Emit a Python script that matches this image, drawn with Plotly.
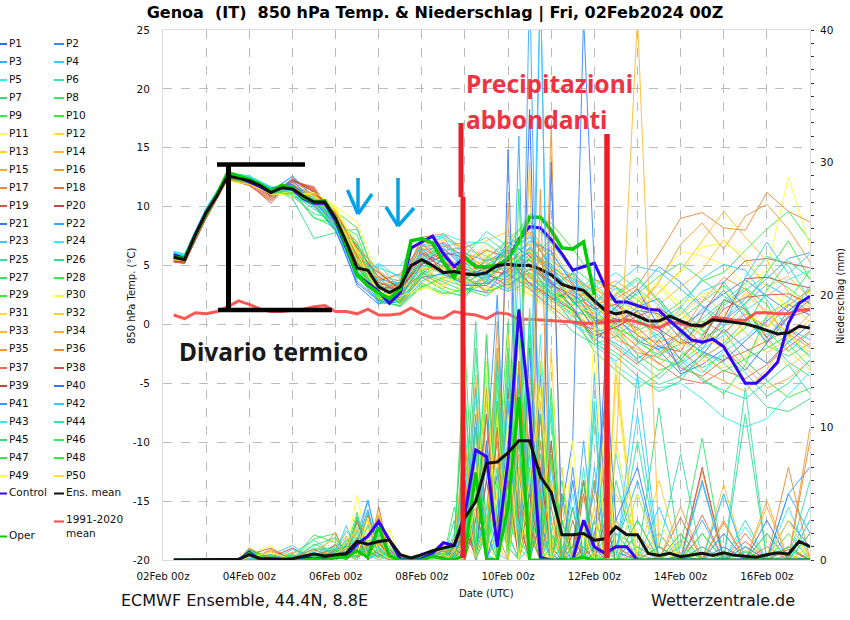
import plotly.graph_objects as go
import pandas as pd

# time grids
TIME_6H = pd.date_range("2024-02-02 06:00", "2024-02-17 00:00", freq="6h")
TIME_T = ["2024-02-02 06:00"] + list(pd.date_range("2024-02-02 12:00", "2024-02-17 00:00", freq="12h"))
TIME_R = ["03 18","04 00","04 12","05 00","05 12","06 00","06 06","06 12","06 18","07 00","07 06","07 12","08 00","08 12","08 18","09 00","09 06","09 12","09 18","10 00","10 06","10 12","10 18","11 00","11 06","11 12","11 18","12 00","12 06","12 12","13 00","13 12","14 00","14 12","15 00","15 12","16 00","16 12","17 00"]
TIME_R = [f"2024-02-{s[:2]} {s[3:]}:00" for s in TIME_R]

# thick series (6-hourly)
T_MEAN = [5.7,5.5,7.6,9.5,10.9,12.6,12.4,12.2,11.8,11.2,11.6,11.5,10.9,10.4,10.4,9.0,7.0,4.8,4.6,3.2,2.7,3.2,5.0,5.5,5.0,4.4,4.5,4.3,4.2,4.4,5.0,5.1,5.0,5.0,4.7,4.2,3.4,3.1,2.9,2.0,1.2,0.9,1.1,0.7,0.3,0.3,0.7,0.3,-0.05,-0.1,0.4,0.3,0.2,0.05,-0.2,-0.5,-0.8,-0.7,-0.15,-0.3]
T_CONTROL = [5.9,5.6,7.7,9.5,11.0,12.7,12.5,12.1,11.7,11.2,11.7,11.5,10.7,10.3,10.3,8.8,6.5,4.2,3.5,2.8,1.8,2.7,6.5,7.0,7.5,6.0,4.9,5.7,4.9,4.9,4.9,5.5,7.2,8.3,8.2,7.2,6.0,4.6,4.9,5.2,3.2,1.9,1.9,1.6,1.3,1.2,0.3,-0.5,-1.3,-1.5,-1.25,-1.9,-3.5,-5.0,-5.0,-4.2,-3.2,0.1,1.8,2.4]
T_OPER = [5.7,5.6,7.6,9.4,11.0,12.9,12.6,12.3,11.9,11.3,11.8,11.6,10.8,10.4,10.5,9.0,6.7,4.2,3.3,2.7,2.2,3.0,7.1,7.3,6.9,5.3,4.0,5.7,4.9,4.9,5.0,5.6,7.0,9.1,9.1,8.0,6.5,6.4,7.0,2.5]
T_CLIM = [0.8,0.5,1.0,0.9,1.1,1.5,2.0,1.7,1.3,1.1,1.1,1.2,1.3,1.5,1.6,1.1,1.1,0.9,1.3,0.8,0.8,0.9,1.4,0.9,0.55,0.55,1.1,0.9,0.8,0.5,1.0,0.9,0.45,0.45,0.4,0.35,0.3,0.2,0.1,0.1,0.2,0.3,0.4,0.2,-0.1,-0.3,0.2,0.1,-0.1,-0.2,0.6,0.5,0.35,0.35,1.0,1.0,0.9,0.9,1.2,1.3]
R_MEAN = [0,0,0,0,0,0,0.05,0.4,0.1,0.1,0.05,0.1,0.3,0.45,0.3,0.4,0.5,1.4,1.2,1.4,1.5,0.4,0.15,0.4,0.7,0.9,1.1,3.2,4.4,7.3,7.4,8.1,9,9,6.3,5.1,1.9,1.9,2,1.5,1.6,2.5,1.9,1.9,0.5,0.35,0.5,0.25,0.35,0.5,0.35,0.55,0.35,0.3,0.2,0.4,0.55,0.45,1.4,1]
R_CONTROL = [0,0,0,0,0,0,0,0.6,0,0,0,0,0.2,0.1,0.1,0.2,0.3,1.2,1.8,2.9,1.5,0.1,0,0.1,0.5,1.3,1.1,3.5,8.3,7.8,1,7.5,18.9,11.3,0.2,0,0,0,3,1,0.5,1,1,0,0,0,0,0,0,0,0,0,0,0,0,0,0,0,0,0]
R_OPER = [0,0,0,0,0,0,0,0.5,0,0,0,0,0,0.1,0,0.2,0.2,0.7,0.2,2.5,0.3,0,0,0,0.3,0.1,0,0.4,6.6,0.1,0,4,12.3,0,0,0,0,0.1,0.2,0,0,0,0,0,0,0,0,0,0,0,0,0,0,0,0,0,0,0,0,0]

# ensemble members, 850 hPa temperature
T01=[5.9,5.7,9.6,12.5,12.2,11.3,11.6,10.4,8.8,4.2,2.4,3.6,6.1,5.2,4.6,3.8,5.4,6.1,4.2,1.9,0.6,-0.4,1.2,0.9,-1.2,-2.3,-3.1,-1.4,0.3,1.7,0.8]
T02=[5.8,5.6,9.4,12.6,12.3,11.1,11.8,10.6,9.1,5.1,3.6,2.9,5.4,6.3,3.9,4.8,6.2,7.4,5.1,3.3,2.1,0.8,-1.4,-2.1,-0.7,1.3,2.6,3.8,2.4,1.1,2.9]
T03=[6.0,5.8,9.7,12.4,12.0,11.2,12.6,10.7,8.6,3.7,2.1,2.4,4.8,5.9,6.2,4.1,3.8,5.2,3.3,1.4,-0.8,-1.6,-2.9,-1.8,-3.4,-2.1,0.4,2.2,3.9,5.6,6.1]
T04=[6.1,5.9,9.8,12.7,12.4,11.4,11.4,10.9,9.3,5.4,4.1,3.7,6.6,6.9,5.3,3.4,4.6,3.9,2.8,0.6,1.8,3.1,1.6,-0.4,0.9,2.8,3.6,1.4,-0.9,0.7,3.3]
T05=[6.2,5.9,9.6,12.6,12.5,11.6,11.7,10.2,8.4,4.0,5.2,3.9,7.1,7.6,6.4,5.8,4.2,3.3,1.9,2.8,3.9,2.2,1.1,-1.7,-2.9,-4.1,-2.3,-1.1,0.6,-1.4,-2.6]
T06=[5.8,5.5,9.3,12.9,12.6,11.5,11.0,10.6,8.9,5.6,2.7,2.1,5.7,6.4,5.1,4.9,4.0,6.6,4.8,3.9,1.2,2.4,3.8,1.9,0.2,-0.9,1.6,2.9,4.2,3.1,1.7]
T07=[5.6,5.4,9.5,12.8,12.3,11.7,10.9,10.1,7.9,4.4,3.0,3.3,4.6,3.8,3.2,5.1,5.9,6.8,3.6,1.1,-1.2,-2.4,-3.8,-5.1,-4.4,-2.9,-1.6,0.3,-1.1,-3.2,-4.4]
T08=[5.7,5.6,9.5,12.4,12.1,11.0,11.3,9.1,8.2,6.1,3.4,2.6,6.9,5.7,3.6,4.4,3.6,5.6,7.2,4.8,3.4,1.8,0.6,-1.3,0.4,1.9,3.3,1.6,-1.8,-2.7,-1.6]
T09=[5.6,5.5,9.4,12.5,12.2,11.4,11.2,10.5,9.6,8.2,3.1,2.2,5.0,4.6,2.9,3.6,6.6,9.4,8.6,6.4,3.8,3.2,2.1,0.6,1.9,3.7,4.4,6.3,8.1,9.6,7.1]
T10=[5.7,5.7,9.6,12.6,12.4,11.3,11.5,10.3,8.7,5.3,2.3,1.9,4.4,3.2,2.6,4.1,5.2,4.1,2.6,2.2,1.1,-0.4,-2.6,-3.9,-3.2,-1.7,-0.6,-3.1,-4.8,-6.2,-5.4]
T11=[5.6,5.4,9.3,12.2,11.9,11.0,11.1,10.9,10.0,8.7,3.8,4.2,3.6,4.1,5.6,6.1,4.6,3.7,5.3,3.2,1.6,2.7,1.3,3.9,6.2,5.8,5.1,3.4,4.6,12.5,6.6]
T12=[5.7,5.5,9.4,12.3,12.0,11.1,11.0,11.3,9.8,5.8,2.6,2.2,3.1,3.9,5.2,6.8,5.5,3.2,1.7,0.4,-0.9,0.6,1.9,3.3,1.2,-0.6,-1.4,0.2,-1.3,-3.6,-2.2]
T13=[5.5,5.3,9.2,12.6,12.2,11.2,11.4,10.6,9.4,6.4,4.3,3.1,6.3,7.2,6.6,7.1,7.9,6.1,4.4,2.1,3.3,1.2,-0.8,-0.1,0.8,2.4,1.1,-0.7,-2.4,-1.2,0.4]
T14=[5.6,5.4,9.4,12.7,12.3,11.3,11.6,10.8,8.9,4.9,2.8,1.8,3.9,5.0,4.9,3.2,2.9,4.5,6.6,3.6,0.4,-1.1,-0.4,1.7,3.2,4.6,7.2,5.4,3.2,4.1,2.2]
T15=[5.5,5.4,9.3,12.8,12.4,11.0,11.5,10.4,8.5,5.9,3.2,1.7,4.2,3.4,4.2,5.7,6.9,7.7,5.6,3.9,2.9,3.7,2.4,0.8,-1.2,-2.8,-1.7,-3.6,-5.4,-4.6,-3.1]
T16=[5.4,5.3,9.2,12.9,12.1,11.2,11.8,10.9,9.2,6.6,4.6,2.7,5.8,6.6,7.0,5.2,4.4,5.9,2.9,1.6,3.8,3.2,1.4,3.6,6.8,8.6,6.4,9.2,10.2,8.1,5.3]
T17=[5.5,5.3,9.1,12.5,12.0,11.5,11.7,11.1,9.6,6.2,2.9,3.4,7.4,7.7,6.1,4.7,5.6,4.0,3.2,4.3,1.7,2.2,3.3,6.0,9.0,9.5,8.2,8.0,11.2,9.6,8.7]
T18=[5.4,5.2,9.3,12.4,11.8,10.5,12.2,11.6,8.0,5.1,3.7,4.3,6.8,5.3,4.0,2.9,4.1,6.4,4.7,2.6,-0.6,-0.3,-1.9,-3.3,-4.6,-5.0,-3.9,-4.6,-3.4,-1.9,-0.6]
T19=[5.5,5.3,9.0,12.3,11.9,10.3,12.3,11.4,9.0,4.7,3.9,2.5,6.0,4.9,5.1,6.3,5.7,3.4,2.1,2.9,0.3,0.5,-0.3,-1.9,-2.3,0.8,3.6,5.4,5.6,5.2,4.8]
T20=[5.3,5.2,9.1,12.6,12.2,10.9,12.4,11.2,9.2,5.7,4.4,3.0,5.2,6.1,5.7,4.3,3.3,4.7,3.7,1.4,-1.4,0.2,1.1,-0.4,-1.6,-1.4,2.1,1.3,-1.1,0.6,1.2]
T21=[5.9,5.7,9.7,12.7,12.5,11.5,11.9,10.5,8.3,3.3,1.7,2.8,4.3,5.5,3.1,2.7,5.0,7.1,6.2,3.4,1.9,0.4,-0.9,-2.2,-4.2,-3.4,-2.1,-3.9,-1.6,0.6,2.1]
T22=[6.0,5.8,9.8,12.5,12.3,11.3,12.6,10.8,9.0,4.6,2.0,1.6,3.7,4.4,6.0,5.4,6.3,5.1,3.1,4.4,2.6,1.1,2.8,4.9,3.6,1.6,0.3,1.8,3.4,2.3,1.1]
T23=[6.1,5.9,9.9,12.6,12.4,11.4,11.3,10.7,9.2,5.4,4.8,4.1,6.7,7.4,4.8,3.6,2.8,3.6,2.4,0.2,-1.8,-3.1,-1.6,-0.8,1.4,3.9,5.1,4.6,2.1,-0.4,-1.3]
T24=[6.2,6.0,9.8,12.8,12.5,11.6,11.6,10.3,8.4,3.9,5.0,5.0,7.3,7.5,5.9,3.9,7.6,5.4,3.8,2.3,3.2,4.4,3.0,1.6,-0.3,-2.1,-0.9,1.2,2.4,3.8,4.6]
T25=[6.0,5.8,9.6,12.9,12.6,11.7,11.1,10.0,8.1,4.5,3.3,2.4,5.6,6.7,5.8,7.9,6.6,8.2,5.4,4.1,1.4,-0.7,-3.1,-4.6,-3.0,-4.8,-5.6,-6.3,-4.9,-3.4,-5.9]
T26=[5.8,5.6,9.4,12.7,12.2,11.5,10.7,7.3,7.8,8.1,3.4,3.4,5.3,4.2,3.7,5.5,5.8,3.1,1.2,-0.6,-1.7,-1.0,0.4,-1.0,-2.3,-3.7,-2.6,-4.1,-6.1,-5.0,-3.0]
T27=[5.7,5.5,9.5,12.4,12.0,11.2,11.2,9.0,8.6,7.6,2.5,2.0,4.0,2.9,2.3,4.5,4.8,6.2,4.1,2.4,0.1,1.4,2.6,4.1,5.2,3.8,2.4,1.1,-0.6,-2.3,-0.7]
T28=[5.6,5.5,9.4,12.5,12.2,11.3,11.4,10.4,8.8,6.0,1.9,1.6,3.3,2.6,3.0,2.4,3.9,5.7,5.0,1.8,2.3,0.1,-1.5,-2.6,-1.6,0.1,1.8,3.1,1.7,-1.7,-3.6]
T29=[5.7,5.6,9.5,12.6,12.3,11.4,11.6,10.6,9.0,5.2,2.2,2.0,4.5,5.6,4.4,5.0,6.4,4.3,2.2,0.9,-2.3,-3.9,-5.4,-4.2,-2.7,-1.2,-0.2,1.7,4.4,7.1,3.8]
T30=[5.6,5.4,9.3,12.3,12.0,11.1,11.0,10.8,9.9,6.9,2.2,2.3,3.4,2.4,3.4,3.0,3.3,2.5,1.0,1.7,0.9,-0.1,1.0,2.8,4.4,6.6,6.9,5.9,3.1,1.4,2.8]
T31=[5.5,5.4,9.2,12.4,12.1,11.2,11.2,11.0,9.7,5.0,2.5,2.8,4.9,3.7,4.6,5.9,4.9,2.8,3.0,1.0,-0.2,1.0,-0.6,-2.4,-1.4,-3.0,-3.7,-2.7,-0.4,1.9,0.2]
T32=[5.5,5.3,9.3,12.6,12.2,11.3,11.5,10.7,9.1,6.3,3.5,1.9,5.5,6.2,6.7,4.0,3.1,5.0,2.4,3.1,2.4,1.6,3.1,0.4,-1.9,-0.3,0.9,2.6,0.9,-2.2,-3.9]
T33=[5.4,5.3,9.2,12.7,12.3,11.1,11.6,10.5,8.6,5.5,3.9,2.6,4.1,3.0,5.5,6.4,5.3,6.9,5.9,2.7,3.6,2.9,0.9,2.7,4.6,7.1,9.6,7.4,5.4,2.7,1.4]
T34=[5.5,5.4,9.3,12.8,12.4,11.0,11.3,10.2,8.3,5.3,3.1,2.5,4.7,4.8,3.5,3.8,5.1,4.2,2.0,0.7,1.0,-1.3,-2.1,-3.4,-2.0,-3.9,-4.8,-5.7,-3.8,-1.0,0.9]
T35=[5.4,5.2,9.2,12.6,12.1,11.4,11.9,11.0,9.5,6.7,4.5,3.3,7.2,6.0,4.5,2.6,3.6,6.0,4.5,2.0,3.0,2.0,-1.0,-1.5,-0.9,2.0,4.0,3.0,1.0,-0.8,-2.0]
T36=[5.3,5.2,9.1,12.5,11.9,10.7,12.0,11.3,9.3,5.9,3.3,3.8,6.5,5.4,4.3,5.3,6.1,7.9,4.6,3.5,0.7,-0.9,-2.4,-2.8,-0.5,0.3,-0.7,0.9,-0.2,1.6,3.0]
T37=[5.4,5.3,9.0,12.3,11.8,10.6,12.1,11.7,8.8,4.8,2.9,3.6,5.9,7.0,5.6,4.6,4.3,3.0,1.5,0.1,-0.4,-2.0,-3.4,-1.3,-3.7,-4.4,-3.0,-2.3,-1.4,-0.4,-1.8]
T38=[5.3,5.2,9.2,12.4,12.0,10.8,12.3,11.5,9.1,5.2,3.6,2.7,6.4,4.5,3.3,3.3,4.7,5.5,3.4,2.5,1.3,1.7,0.2,-0.6,-3.0,-1.0,1.3,2.3,2.5,2.6,1.8]
T39=[5.4,5.3,9.1,12.5,12.2,10.9,12.2,11.3,9.4,6.5,4.0,3.2,5.1,5.8,4.1,4.8,5.5,3.5,2.3,1.2,-1.0,-0.2,0.7,1.4,0.1,-1.7,0.5,3.9,4.0,3.5,3.1]
T40=[5.9,5.6,9.5,12.7,12.4,11.6,11.9,10.2,8.0,3.5,2.0,2.3,5.1,6.5,4.7,4.2,7.0,5.8,3.5,2.1,-0.3,1.5,3.0,-0.2,-4.0,-2.6,-0.4,-2.0,-3.3,-1.5,0.0]
T41=[6.0,5.7,9.6,12.5,12.1,11.2,12.2,10.5,8.5,4.3,1.8,1.9,4.0,4.3,3.4,3.5,4.5,6.5,4.4,2.9,1.5,0.0,1.5,2.2,-0.1,1.0,2.9,0.6,-1.5,1.2,2.4]
T42=[6.1,5.8,9.8,12.6,12.3,11.3,11.4,10.8,8.7,5.0,3.8,3.5,6.2,6.8,5.0,4.0,3.0,4.8,6.0,3.7,1.9,3.4,4.9,4.5,3.0,1.5,-0.2,4.0,7.0,4.3,6.0]
T43=[6.2,5.9,9.9,12.8,12.6,11.7,11.5,10.1,8.2,4.1,5.1,3.0,6.0,7.7,7.0,6.9,5.6,4.9,2.7,0.0,-1.0,-3.5,-4.8,-5.4,-5.0,-6.3,-7.9,-8.7,-8.0,-6.0,-4.0]
T44=[6.0,5.8,9.7,12.9,12.5,11.6,11.0,9.8,8.4,4.7,3.4,2.0,5.5,6.3,6.5,7.4,6.0,7.6,4.9,3.0,0.0,-1.8,-3.2,-2.4,-1.0,0.5,2.0,3.5,5.8,5.0,2.0]
T45=[5.8,5.6,9.5,12.7,12.2,11.4,10.9,9.4,8.9,7.0,3.0,2.6,4.4,3.6,2.8,4.3,6.7,5.0,2.5,1.3,-1.6,-2.7,-4.4,-5.7,-4.8,-2.4,-3.3,-5.0,-7.0,-7.4,-6.3]
T46=[5.7,5.5,9.4,12.5,12.1,11.2,11.2,10.0,8.3,6.8,2.4,1.8,3.5,2.7,2.5,3.7,4.2,5.5,3.0,1.6,2.8,1.3,-0.5,0.3,1.5,-0.5,-1.8,-0.3,2.9,5.4,3.9]
T47=[5.6,5.4,9.5,12.4,12.0,11.3,11.3,10.6,8.9,5.6,2.1,1.5,3.2,4.0,3.8,5.6,7.2,8.8,6.9,4.5,2.0,-0.3,-1.2,-2.9,-3.5,-4.6,-5.9,-3.4,0.8,2.0,4.6]
T48=[5.7,5.5,9.5,12.6,12.3,11.4,11.7,10.5,9.0,4.9,2.3,2.1,4.2,5.1,4.0,2.8,3.4,4.4,2.7,1.2,0.5,2.6,4.0,2.0,-0.8,-2.5,-4.0,-2.9,-2.0,-0.9,-2.8]
T49=[5.6,5.4,9.3,12.2,11.9,11.1,10.9,11.2,10.1,6.1,2.6,2.4,3.0,3.3,4.4,5.0,5.2,6.3,4.0,2.3,-0.1,0.8,2.2,3.5,1.7,2.6,3.0,1.0,-0.5,3.0,1.6]
T50=[5.5,5.4,9.3,12.5,12.1,11.0,11.3,10.9,9.6,5.5,3.0,2.9,4.8,4.7,5.3,4.5,3.7,2.6,1.3,3.0,2.0,-0.6,-1.7,0.1,1.1,-1.1,-2.0,-0.1,1.3,-1.0,-2.4]

# ensemble members, precipitation
R01=[0,0,0,0,0,0.4,0,1,0,0.6,0.3,0,0,0.2,0.6,2.1,1,3,6.4,4,9,34,5,0.4,0,1,0,2,5,0.6,0,0,0.3,0,0,0,0,0,0]
R02=[0,0,0,0,0,0.2,0.6,0,1.2,0.3,0,0,0.1,0,1,0.5,3,7,2,12,1,6,0,0,4,9,41,22,3,0,2,0,0,6,0,1,0,0,0]
R03=[0,0,0,0.3,0,0,1,2,4.5,1,0,0,0,0.4,0,4,0.7,6,15,3,1,44,2,0,0,0,2,5,12,1,6,0,0,3,0,0,2,0,1]
R04=[0,0,0.2,0,0.6,0,0.5,1.5,0.3,0.7,0.1,0,0,0,0.3,1,8,2,0,9,22,3,0,7,0.3,0,0,14,2,0,11,0,0,0,5,0,0,0,3]
R05=[0,0.3,0,0,0.2,0.3,0,0.8,0.4,0.2,0.6,0,0,0.5,0.1,7,2,12,0.5,3,11,1,17,2,0,3,0,0,1,8,0,2,0,0,2,0,0,4,0]
R06=[0,0.4,0,0,0.7,1,0.3,0,2,1,0.2,0,0.1,0,2,12,0,3,16,2,0,8,0,5,1,0,7,0.2,0,3,0,0,1,0,0,3,0,0,0]
R07=[0,0.9,0,0,1.2,0.5,1.1,2.3,0.4,0,0.3,0,0,0.7,0,3,18,0.5,1,14,2,0,9,0.4,2,0,0,6,0,1,0,11.5,0,2,0,0,0,0.3,0]
R08=[0,0.5,0.1,0,1.6,2,0.2,3.2,0.8,1.4,0,0,0.3,0,4,0.2,6,14,0.3,7,17,1,3,11,0,2,0,0,3,0,0,0,1,9.2,0,0,0,1,0]
R09=[0,0.6,0,0.2,0.3,1.1,0.4,0.2,1.9,3.1,0.5,0.1,0,0.2,1,16,1,4,10,0.3,5,13,0.4,2,6,0,1,0,0,2,1,0,0,0,0,0.7,0,0,2]
R10=[0,0.2,0,0,0.1,0.4,1,0.6,0.3,1.6,0.2,0,0,0.6,0.4,2,13,0,6,18,0,3,0,9,0,4,0,0.5,0,0,3,0,0,0.5,0,0,2,0,0]
R11=[0,0.4,1.1,0,0.1,0,0.7,4.9,1,0,2.4,0,0,0,1.3,0.6,9,3,0,11,6,0,15,0,3,0,0,18,0,13,0,0,0.5,0,0,0,1.5,0,0]
R12=[0,0.1,0,0,0,0.3,0.2,1.3,3.4,0.6,0.1,0,0.2,0,0.8,3,1,15,2,5,0,13,0,0.7,7,0,0,0,1,0,9,0,0,0,0,0,0,0,0.4]
R13=[0,0.8,0,0.1,0.2,0,0.6,2.3,0.5,3.5,0.2,0.1,0,0.3,0,1,11,0.6,8,0,7,2,0,16,0,1,0,4,0,14,0,6,0,0,0,0,0,0,0]
R14=[0,0.3,0,0,0,0.6,0.4,0,2.7,1.1,1,0,0,0.2,0.5,5,0,9,1,14,0.5,19,0,3,0,0,5,0,0,8,41,1,0,0,0,0,0,0,0]
R15=[0,0.2,0.2,0,0.4,0.2,1,0.4,1.8,0.7,0,0,0.4,0,0.2,0.6,14,1,5,27,3,0,12,0,4,0,2,0,0,1,0,0,0,6.7,0,0,4,0,1]
R16=[0,0,0.8,0,0.2,0.9,0.1,1.5,3.1,0.3,0.4,0,0,0.8,0,9,1,2,18,0,8,0,4,33,0,0.6,0,3,7,0,0,0,2,0,0,0,0,3,0]
R17=[0,0.1,0,0.4,0.1,2.1,0.3,1.1,0.5,2.3,0.1,0,0.2,0,1.6,3,0,11,2,0,15,3,0,8,0,0,3,0,0,0,0.4,0,0,0,2,0,0,0,9]
R18=[0,0.9,0,0,0.3,0.4,1.3,0.2,0.9,1.2,0.6,0,0,1.1,0.2,0,7,0.3,12,2,0,6,0,1,0,0,5,0,1,0,0,0,3.2,0,0,2,0,0,0]
R19=[0,0.4,0.9,0,0,1.2,0,0.7,3.4,0.5,0.2,0.3,0,0.2,0,2,0.4,8,1,6,0,10,0,0,5,0,0.3,1,0,0,0,0,0,1,0,0,0,1,0]
R20=[0,0.8,0,0.2,0.1,0.2,0.6,1.7,0.2,4,0.3,0,0.3,0,0.9,0.2,4,0,10,0.4,7,0,11,0,0,0,6,0,0,0,1,0,0,7,0,0,0,0,0]
R21=[0,0.1,0.3,0,0.2,0,0.5,1,0.2,0.7,0.1,0,0,0.3,0.3,3,0.4,9,1,31,4,0,14,1,0,6,0,0,12,0,0,2,0,0,1,0,0,3,1]
R22=[0,0.3,0,0,0.4,0.8,0,1.3,4.5,0.9,0,0,0.2,0,0.4,0.9,11,0,2,7,32,1,44,0,0,0.5,9,1,0,0,5,0,0,0,2,0,0,5,2]
R23=[0,0,0.4,1.1,0,0.5,1.6,0.3,1.2,0.4,0.5,0,0,0.1,1.1,6,1,17,0.5,0,13,2,6,0,3,0,0,7,1,0,14,0,0,5.8,0,0,0,0,4]
R24=[0,0.7,0,0.2,0.2,0.1,0.9,2.5,0.7,0.2,1.1,0,0.1,0,0.2,0.5,5,1,13,2,0,19,0,12,0,0,1,0,2,0,9,0,0,0,0,2.5,0,0,0]
R25=[0,0.6,0,0.5,1.5,0.4,1.2,0.6,3.6,1,0.2,0.1,0,0.5,0,10,0,4,0.8,15,1,7,0,2,0,4,0,11,0,0,0,1,8,0,0,0,0,0,6]
R26=[0,0.5,0.1,0,0.9,0.7,2.2,1.1,0.3,2,0.5,0,0.2,0,3,0.3,16,2,0,6,12,0,8,0,5,0,0,0,4,0,2,0,0,0,0,11,0,0,0]
R27=[0,0.3,0,0.1,0.1,0.3,0.4,2.8,1,0.6,0.1,0,0,0.4,1.2,4,0.2,13,3,1,9,0,15,0,1,0,3,0,0,6,0,0,1.5,0,0,0.6,0,0,0]
R28=[0,0.6,0.2,0,1.9,1.3,0.5,0.2,1.5,1.3,0.2,0,0.3,0.1,0,1,6,0,11,3,28,5,1,13,0,0,0,2,0,0,0,0,0,0,0,1,0,0,0]
R29=[0,0.2,0,0.3,0.2,0.6,0.8,3.6,0.2,0.8,0.3,0,0,0,0.6,8,0.5,2,14,0,6,17,0,1,3,0,0,0.4,0,2,0,0,0,0,0,0,0,2,0]
R30=[0,0.1,0.5,0,0,0.2,0.3,0.6,2.4,0.2,1.2,0,0.1,0.6,0.1,2,7,0.3,5,10,0,4,0,6,0,9,0,0,0,0,0,3,0,0,0,0,0,0,1]
R31=[0,0.4,0,0,0.3,0.5,0.1,1.9,0.6,3.8,0,0.2,0,0,0.8,1,0.3,12,0,8,2,13,1,0,7,0,0,4,0,15,0,0,0,0,0,0,0,0,0]
R32=[0,0.9,0.1,0.2,0.1,0,1.4,0.8,0.4,0.5,0.5,0,0.2,0.2,0,4,12,1,0,17,4,0,3,0,0,1,0,0,0,5,2,0,0,0,0,1,0,0.4,0]
R33=[0,0.3,0.3,0,0.7,1.6,0.2,2.2,3,0.3,0.1,0,0,0.9,0.3,0.7,3,7,1,0,11,30,0,6,0,0,3,0,9,0,0,0,1.2,0,5.7,0,0,0,0]
R34=[0,0.1,0,0.6,0.2,0.1,0.7,0.5,2,1.7,0.3,0.1,0.3,0,1.4,9,0,2,16,1,0,14,7,0,2,0,0,0,1,3,0,0,0,0,0,0,4.5,0,3]
R35=[0,0.2,0.6,0,0.3,0.8,1.8,0.3,0.4,0.6,1.4,0,0,0.3,0.2,0,5,13,0.3,7,1,0,9,1,0,4,0,2,0,0,0,0,4,0,3,0,0,0,10]
R36=[0,0,0.7,0.1,0,0.3,0.2,1,1.6,3.3,0.2,0,0.1,0,0.7,1.5,8,0,10,2,15,1,28,0,0,3,0,6,0,0,0,0,0,0,2.8,0,0,7,0]
R37=[0,0.5,0,0.2,0.8,0.2,0.9,0.4,1.1,0.4,0.6,0.2,0,0.5,0,6,0.4,3,9,0,12,2,0,4,0,0,1,0,0,1,0,0,0,3.4,0,0,1,0,0]
R38=[0,0.2,0.1,0,0.1,0.7,0.3,3,0.3,1.5,0,0,0.2,0,1,0,3,11,0.4,6,0,5,0,9,0,2,0,0,3,0,0,0,0,0,0,1.4,0,0,0]
R39=[0,0.3,0.2,0.9,0,0.3,0.5,1.2,0.7,0.2,0.8,0,0,0.3,0.5,2,0.8,6,1,13,3,0,7,0,0,1,6,0,0,0,0,1,0,0,0,0,0,0.8,0]
R40=[0,0.1,0,0,0.5,0.2,1.1,0.7,0.6,2.8,0.2,0,0.1,0,0.2,0.8,10,0,3,9,1,16,0,30,2,0,0,0,15,3,7,0,0,0,0,0,3,0,0]
R41=[0,0.2,0.4,0,0,0.4,0.4,1.4,3.8,0.4,0.3,0,0,0.7,0.1,5,0,8,20,0,14,0,3,0,0,7,0,1,0,0,0,0,0,0,0,1,0,5,7]
R42=[0,0.3,0,0.8,0.2,0.6,2.6,0.5,0.9,1,0.1,0.1,0.2,0,0.9,1,13,0.4,0,12,2,8,44,0,1,0,3,0,0,2,0,4,0,0,5,0,0,0,2]
R43=[0,0.1,0.1,0,0.6,0.9,0.3,2.1,0.2,0.6,0.7,0,0,0.2,0,7,0.6,4,0,14,0,1,6,0,0,5,0,0,0,0,1,0,0,0,0,0,0,0,3]
R44=[0,0.7,0,0.3,0.3,0.2,1.2,0.8,2.6,0.3,0.2,0,0.1,0.4,0.3,1,8,0,15,1,0,18,2,0,0,4,0,12,0,0,0,0,0,1,0,13,0,0,0]
R45=[0,0.8,0.2,0,1.1,1.7,0.4,3.3,0.5,1.9,0.4,0.1,0,0,1.7,13,0,2,7,0,9,0,11,1,0,0,6,0,0,0,3,0,0,0,0,0,0,0,0]
R46=[0,0.4,0,0.2,0.5,0.1,0.7,0.2,1.3,0.8,0,0,0.3,0.5,0.2,0.4,10,1,4,16,0,7,0,2,0,0,0,3,1,0,0,0,2,0,0,0,0,1,0]
R47=[0,0.5,0.3,0,0.2,0.4,1.5,1,0.4,2.5,0.3,0,0,0.1,1.2,4,0.3,17,0,6,13,0,5,0,3,0,0,0,0,0,0,1,0,0,0,0,0,0,2]
R48=[0,0.6,0,0.4,0,0.8,0.2,1.7,0.8,0.2,0.9,0,0.2,0,0.4,2,6,0,12,0,19,2,0,8,0,1,0,0,0,0,0,0,0,2,0,0,0,0,0]
R49=[0,0.2,0.6,0,0.4,0.1,0.6,0.4,3.2,0.6,0.1,0.2,0,0.4,0,0.9,4,14,1,9,0,6,13,0,0,0,2,0,11,0,5,0,0,0,0,0,0,3,0]
R50=[0,0.3,0,0.1,0.1,0.5,0.9,2.6,0.3,1.2,0.2,0,0.1,0,0.6,5,0.2,3,11,0,7,1,15,0,2,0,0,0.6,0,9,0,2,0,0,0,0,0,0,0]

T_MEMBERS=[T01,T02,T03,T04,T05,T06,T07,T08,T09,T10,T11,T12,T13,T14,T15,T16,T17,T18,T19,T20,T21,T22,T23,T24,T25,T26,T27,T28,T29,T30,T31,T32,T33,T34,T35,T36,T37,T38,T39,T40,T41,T42,T43,T44,T45,T46,T47,T48,T49,T50]
R_MEMBERS=[R01,R02,R03,R04,R05,R06,R07,R08,R09,R10,R11,R12,R13,R14,R15,R16,R17,R18,R19,R20,R21,R22,R23,R24,R25,R26,R27,R28,R29,R30,R31,R32,R33,R34,R35,R36,R37,R38,R39,R40,R41,R42,R43,R44,R45,R46,R47,R48,R49,R50]

MEMBER_COLORS = ["#3366ff","#3388ff","#33aaff","#33ccff","#33eeee","#33e0b0","#33dd88","#33e866","#33ee44","#33ee33",
 "#ffff33","#ffdd33","#ffcc33","#ffbb33","#ffaa33","#f09933","#ee8833","#e26a44","#cc5544","#c44444",
 "#3377ff","#33aaff","#33ccff","#33eeee","#33e0b0","#33dd88","#33e866","#33ee44","#33ee33","#ffff33",
 "#ffdd33","#ffcc33","#ffbb33","#ffaa33","#f09933","#ee8833","#e26a44","#cc5544","#c44444","#3377ff",
 "#3399ff","#33ccff","#33eeee","#33e0b0","#33dd77","#33e866","#33ee44","#33ee33","#ffff33","#ffdd33"]
C_CONTROL="#3300ff"; C_MEAN="#111111"; C_OPER="#00cc00"; C_CLIM="#ff4444"

Y_TICKS=[-20,-15,-10,-5,0,5,10,15,20,25]
Y_LABELS=["-20","-15","-10","-5","0","5","10","15","20","25"]
Y2_TICKS=[0,10,20,30,40]
TITLE="Genoa  (IT)  850 hPa Temp. & Niederschlag | Fri, 02Feb2024 00Z"

fig=go.Figure()
for i,(t,r,c) in enumerate(zip(T_MEMBERS,R_MEMBERS,MEMBER_COLORS)):
    name=f"P{i+1}"
    fig.add_trace(go.Scatter(x=TIME_R,y=r,yaxis="y2",mode="lines",name=name,line=dict(color=c,width=1),opacity=0.9,showlegend=False))
    fig.add_trace(go.Scatter(x=TIME_T,y=t,mode="lines",name=name,line=dict(color=c,width=1),opacity=0.9,showlegend=False))
def thick(x,y,name,c,axis="y",w=3,op=1):
    fig.add_trace(go.Scatter(x=x,y=y,yaxis=axis,mode="lines",name=name,line=dict(color=c,width=w),opacity=op,showlegend=False))
thick(TIME_6H,R_CONTROL,"Control",C_CONTROL,"y2")
thick(TIME_6H,R_OPER,"Oper",C_OPER,"y2")
thick(TIME_6H,R_MEAN,"Ens. mean",C_MEAN,"y2")
thick(TIME_6H,T_CLIM,"1991-2020 mean",C_CLIM,op=0.9)
thick(TIME_6H,T_CONTROL,"Control",C_CONTROL)
thick(TIME_6H[:len(T_OPER)],T_OPER,"Oper",C_OPER,w=3.5)
thick(TIME_6H,T_MEAN,"Ens. mean",C_MEAN)

W,H=850,620; L,R,T,B=163,810,30,560
px=lambda v:(v-L)/(R-L)
py=lambda v:(B-v)/(B-T)
shapes=[];ann=[]
FONT="DejaVu Sans"
def label(x,y,text,size=10.5,color="#111",font=FONT,anchor="left",**k):
    ann.append(dict(xref="paper",yref="paper",x=px(x),y=py(y),text=text,showarrow=False,xanchor=anchor,yanchor="middle",
                    font=dict(size=size,color=color,family=font),borderpad=0,**k))
def seg(x0,y0,x1,y1,c,w):
    shapes.append(dict(type="line",xref="paper",yref="paper",x0=px(x0),y0=py(y0),x1=px(x1),y1=py(y1),line=dict(color=c,width=w)))

# hand-made legend
names=[f"P{i+1}" for i in range(50)]
for i,(n,c) in enumerate(zip(names,MEMBER_COLORS)):
    col=i%2; row=i//2
    y=42.5+18*row
    x0,x1,xt=(0,7,7.5) if col==0 else (54,64,65)
    seg(x0,y+1.5,x1,y+1.5,c,2); label(xt,y,n)
seg(0,493.5,7,493.5,C_CONTROL,2); label(7.5,492,"Control")
seg(54,493.5,64,493.5,C_MEAN,2); label(65,492,"Ens. mean")
seg(54,521.5,64,521.5,C_CLIM,2); label(65,519,"1991-2020")
label(65,532.5,"mean")
seg(0,536.5,7,536.5,C_OPER,2); label(7.5,535,"Oper")

# overlays drawn on the picture
K="#000000"; RD="#ee1c25"; BL="#00a2e8"
seg(217,164.5,305,164.5,K,4.5); seg(228.5,164,228.5,310,K,5); seg(218,310,332,310,K,4.5)
seg(461,123,461,197,RD,5); seg(463,197,463,558,RD,5); seg(607,134,607,558,RD,5.5)
seg(358,178,358,214,BL,3.5); seg(347.5,190,358,214,BL,3.5); seg(358,214,372,194,BL,3.5)
seg(398,178,398,226,BL,3.5); seg(386,207,398,226,BL,3.5); seg(398,226,414,208,BL,3.5)
label(178,351,"<b>Divario termico</b>",24.5,"#1a1a1a","Noto Sans")
label(465,84,"<b>Precipitazioni</b>",24.6,"#ee3344","Noto Sans")
label(465,120,"<b>abbondanti</b>",24.6,"#ee3344","Noto Sans")

label(120,600,"ECMWF Ensemble, 44.4N, 8.8E",16)
label(650,600,"Wetterzentrale.de",16)
label(486,593,"Date (UTC)",10,anchor="center")
label(131,296,"850 hPa Temp. (°C)",10,anchor="center",textangle=-90)
label(840,296,"Niederschlag (mm)",10,anchor="center",textangle=-90)

GRID="#bbbbbb"; EDGE="#dddddd"
fig.update_layout(width=W,height=H,autosize=False,margin=dict(l=L,r=W-R,t=T,b=H-B,pad=0),
    paper_bgcolor="white",plot_bgcolor="white",showlegend=False,
    font=dict(family=FONT,size=10.5,color="#111"),
    title=dict(text=f"<b>{TITLE}</b>",x=435/W,xanchor="center",y=1-12.5/H,yanchor="middle",font=dict(size=16,family=FONT,color="#000")),
    annotations=ann,shapes=shapes,
    xaxis=dict(type="date",range=["2024-02-02 00:00","2024-02-17 00:00"],dtick=2*86400000,tick0="2024-02-02",
        tickformat="%d%b %Hz",ticks="outside",ticklen=7,tickcolor="rgba(0,0,0,0)",showgrid=True,gridcolor=GRID,griddash="dash",
        minor=dict(dtick=86400000,showgrid=True,gridcolor=GRID,griddash="dash",ticks=""),
        showline=True,linecolor=EDGE,mirror=True,zeroline=False,tickfont=dict(size=10.3)),
    yaxis=dict(range=[-20,25],tickvals=Y_TICKS,ticktext=Y_LABELS,ticks="outside",ticklen=10,tickcolor="rgba(0,0,0,0)",
        showgrid=True,gridcolor=GRID,griddash="dash",showline=True,linecolor=EDGE,zeroline=False,tickfont=dict(size=10.5)),
    yaxis2=dict(range=[0,40],overlaying="y",side="right",anchor="x",tickvals=Y2_TICKS,ticks="outside",ticklen=7,
        tickcolor="rgba(0,0,0,0)",showgrid=False,showline=True,linecolor=EDGE,zeroline=False,tickfont=dict(size=10.5),
        minor=dict(dtick=1,ticks="outside",ticklen=3,tickcolor="#333",showgrid=False)))
fig.write_html("out.html",post_script="document.body.style.margin='0';",config={"displayModeBar":False})
